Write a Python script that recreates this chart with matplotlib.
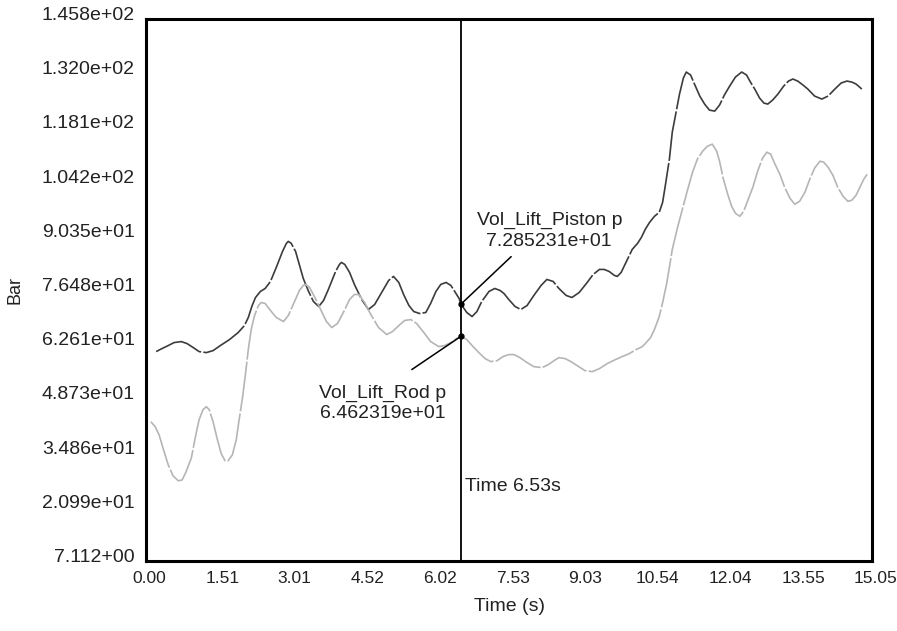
import matplotlib.pyplot as plt
from matplotlib.transforms import ScaledTranslation

plt.rcParams["font.family"] = ["Liberation Sans", "DejaVu Sans"]

# values (time in s, pressure in bar)
piston_t = [0.21, 0.33, 0.46, 0.58, 0.73, 0.85, 0.98, 1.10, 1.25, 1.39,
            1.54, 1.73, 1.91, 2.04, 2.12, 2.20, 2.27, 2.37, 2.47, 2.58,
            2.70, 2.83, 2.91, 2.95, 3.01, 3.10, 3.16, 3.26, 3.37, 3.47,
            3.58, 3.68, 3.78, 3.93, 4.01, 4.05, 4.12, 4.22, 4.32, 4.47,
            4.61, 4.74, 4.86, 5.03, 5.13, 5.24, 5.34, 5.45, 5.55, 5.67,
            5.80, 5.90, 6.01, 6.11, 6.22, 6.32, 6.40, 6.49, 6.53, 6.65,
            6.76, 6.86, 6.96, 7.11, 7.23, 7.34, 7.42, 7.52, 7.65, 7.77,
            7.90, 8.04, 8.19, 8.31, 8.44, 8.56, 8.71, 8.83, 8.98, 9.13,
            9.27, 9.40, 9.50, 9.60, 9.71, 9.77, 9.85, 9.96, 10.08, 10.19,
            10.27, 10.35, 10.44, 10.54, 10.64, 10.71, 10.77, 10.85, 10.91, 11.00,
            11.06, 11.14, 11.20, 11.29, 11.37, 11.48, 11.58, 11.68, 11.79, 11.89,
            11.99, 12.10, 12.22, 12.35, 12.45, 12.53, 12.62, 12.72, 12.81, 12.89,
            12.99, 13.10, 13.22, 13.32, 13.41, 13.51, 13.62, 13.72, 13.86, 14.01,
            14.14, 14.28, 14.41, 14.53, 14.63, 14.72, 14.84]
piston_p = [60.70, 61.47, 62.24, 63.00, 63.26, 62.75, 61.72, 60.70, 60.44, 60.95,
            62.24, 63.77, 65.57, 67.36, 69.42, 72.49, 74.54, 76.08, 76.85, 78.65,
            82.23, 86.34, 88.39, 88.90, 88.39, 86.34, 83.77, 79.41, 76.08, 73.52,
            72.24, 73.77, 76.59, 81.21, 83.00, 83.52, 83.00, 80.95, 77.88, 74.03,
            71.47, 72.75, 75.31, 78.90, 79.93, 78.39, 75.31, 72.49, 70.95, 70.44,
            70.70, 73.01, 76.08, 77.88, 78.39, 77.62, 76.08, 74.29, 72.85, 70.70,
            69.67, 70.95, 73.52, 76.08, 76.85, 76.34, 75.57, 74.03, 72.24, 71.47,
            72.49, 75.06, 77.62, 79.16, 78.65, 76.85, 75.06, 74.54, 75.82, 78.13,
            80.44, 81.72, 81.72, 81.21, 80.19, 79.93, 80.95, 83.77, 86.85, 88.39,
            89.93, 91.98, 93.77, 95.31, 96.34, 98.90, 103.52, 109.93, 116.85, 122.75,
            126.59, 130.69, 132.23, 131.46, 129.16, 126.08, 124.03, 122.49, 122.23, 123.77,
            126.34, 128.64, 130.95, 132.23, 131.46, 129.67, 127.87, 125.57, 124.28, 124.03,
            125.05, 126.59, 128.64, 129.92, 130.44, 129.92, 128.90, 127.87, 126.08, 125.31,
            126.08, 127.87, 129.41, 129.92, 129.67, 129.16, 127.87]

rod_t = [0.10, 0.19, 0.27, 0.35, 0.46, 0.56, 0.67, 0.75, 0.83, 0.94,
         1.02, 1.10, 1.18, 1.25, 1.31, 1.39, 1.48, 1.56, 1.64, 1.70,
         1.79, 1.87, 1.93, 2.00, 2.06, 2.12, 2.18, 2.25, 2.33, 2.39,
         2.47, 2.58, 2.70, 2.85, 2.95, 3.08, 3.18, 3.26, 3.31, 3.39,
         3.49, 3.62, 3.74, 3.85, 3.97, 4.10, 4.22, 4.32, 4.41, 4.53,
         4.66, 4.82, 4.99, 5.11, 5.24, 5.36, 5.49, 5.61, 5.76, 5.90,
         6.07, 6.19, 6.32, 6.44, 6.53, 6.65, 6.78, 6.90, 7.03, 7.15,
         7.28, 7.40, 7.52, 7.63, 7.75, 7.90, 8.04, 8.21, 8.34, 8.46,
         8.56, 8.69, 8.81, 8.94, 9.10, 9.25, 9.40, 9.56, 9.73, 9.87,
         10.02, 10.16, 10.29, 10.37, 10.46, 10.54, 10.64, 10.71, 10.79, 10.85,
         10.91, 11.02, 11.12, 11.23, 11.33, 11.43, 11.54, 11.64, 11.74, 11.83,
         11.89, 11.97, 12.06, 12.14, 12.22, 12.31, 12.39, 12.47, 12.58, 12.68,
         12.78, 12.87, 12.95, 13.03, 13.14, 13.24, 13.35, 13.45, 13.55, 13.66,
         13.76, 13.86, 13.97, 14.05, 14.14, 14.24, 14.34, 14.45, 14.55, 14.63,
         14.72, 14.80, 14.88, 14.95]
rod_p = [42.75, 41.47, 39.42, 36.09, 31.72, 28.90, 27.62, 27.88, 29.93, 33.52,
         38.65, 43.26, 45.83, 46.60, 45.83, 42.75, 38.13, 34.55, 32.75, 32.75,
         34.29, 38.13, 43.26, 48.90, 54.80, 61.21, 66.34, 69.93, 72.49, 73.26,
         73.01, 71.21, 69.42, 68.39, 69.93, 73.52, 76.34, 77.62, 77.88, 77.11,
         74.80, 71.47, 68.39, 66.85, 67.88, 70.95, 74.03, 75.31, 75.31, 73.26,
         70.19, 66.85, 65.06, 65.83, 67.36, 68.65, 68.90, 67.88, 65.57, 63.26,
         61.98, 62.24, 63.01, 64.03, 64.62, 63.77, 61.98, 60.44, 58.90, 58.13,
         58.39, 59.42, 59.93, 59.93, 59.16, 57.88, 56.85, 56.60, 57.36, 58.39,
         59.16, 58.90, 58.13, 57.11, 55.83, 55.57, 56.34, 57.62, 58.65, 59.42,
         60.19, 61.21, 61.98, 63.01, 64.29, 66.34, 69.67, 73.26, 77.88, 82.23,
         86.85, 92.49, 97.11, 102.23, 106.59, 109.93, 111.98, 113.26, 113.77, 111.98,
         109.41, 104.80, 100.95, 97.88, 96.08, 95.31, 96.59, 99.16, 102.75, 106.85,
         110.18, 111.72, 111.21, 108.90, 106.08, 102.75, 99.93, 98.39, 99.16, 101.47,
         104.80, 107.62, 109.41, 109.16, 107.87, 105.82, 102.75, 100.44, 99.16, 99.41,
         100.70, 102.75, 104.80, 106.08]

x_ticks = [0.00, 1.51, 3.01, 4.52, 6.02, 7.53, 9.03, 10.54, 12.04, 13.55, 15.05]
y_ticks = [7.112, 20.99, 34.86, 48.73, 62.61, 76.48, 90.35, 104.2, 118.1, 132.0, 145.8]
y_labels = ["7.112+00", "2.099e+01", "3.486e+01", "4.873e+01", "6.261e+01", "7.648e+01",
            "9.035e+01", "1.042e+02", "1.181e+02", "1.320e+02", "1.458e+02"]

cursor_t = 6.53
piston_val = 72.85
rod_val = 64.62

fig = plt.figure(figsize=(8.97, 6.31), dpi=100)
ax = fig.add_axes([0.1628, 0.1109, 0.8093, 0.8590])

ax.plot(piston_t, piston_p, color="#3c3c3c", lw=1.2, dashes=(30, 1.3))
ax.plot(rod_t, rod_p, color="#b5b5b5", lw=1.2, dashes=(30, 1.3))

ax.axvline(cursor_t, color="black", lw=1.3)
ax.plot([cursor_t, cursor_t], [piston_val, rod_val], "o", color="black", ms=3.5)

ax.annotate("", xy=(cursor_t, piston_val), xytext=(7.57, 85.0),
            arrowprops=dict(arrowstyle="-", color="black", lw=1.1, shrinkA=0, shrinkB=0))
ax.annotate("", xy=(cursor_t, rod_val), xytext=(5.51, 56.1),
            arrowprops=dict(arrowstyle="-", color="black", lw=1.1, shrinkA=0, shrinkB=0))
ax.text(8.36, 91.6, "Vol_Lift_Piston p\n7.285231e+01", ha="center", va="center",
        fontsize=14, color="#222222", linespacing=1.25)
ax.text(4.91, 47.4, "Vol_Lift_Rod p\n6.462319e+01", ha="center", va="center",
        fontsize=14, color="#222222", linespacing=1.25)
ax.text(cursor_t + 0.08, 26.1, "Time 6.53s", ha="left", va="center",
        fontsize=14, color="#222222")

ax.set_xlim(0, 15.05)
ax.set_ylim(7.112, 145.8)
ax.set_xticks(x_ticks)
ax.set_xticklabels(["%.2f" % v for v in x_ticks])
ax.set_yticks(y_ticks)
ax.set_yticklabels(y_labels)
ax.tick_params(length=0, labelcolor="#222222")
ax.tick_params(axis="y", pad=8, labelsize=14)
ax.tick_params(axis="x", pad=7, labelsize=12.5)
for lab in ax.get_yticklabels():
    lab.set_transform(lab.get_transform() + ScaledTranslation(0, 4 / 72, fig.dpi_scale_trans))
for lab in ax.get_xticklabels():
    lab.set_transform(lab.get_transform() + ScaledTranslation(2.5 / 72, 0, fig.dpi_scale_trans))

for sp in ax.spines.values():
    sp.set_linewidth(2.2)
    sp.set_color("black")

ax.set_xlabel("Time (s)", fontsize=14, color="#222222", labelpad=9)
ax.set_ylabel("Bar", fontsize=13, color="#222222", labelpad=13)

fig.savefig("out.png", dpi=100)
